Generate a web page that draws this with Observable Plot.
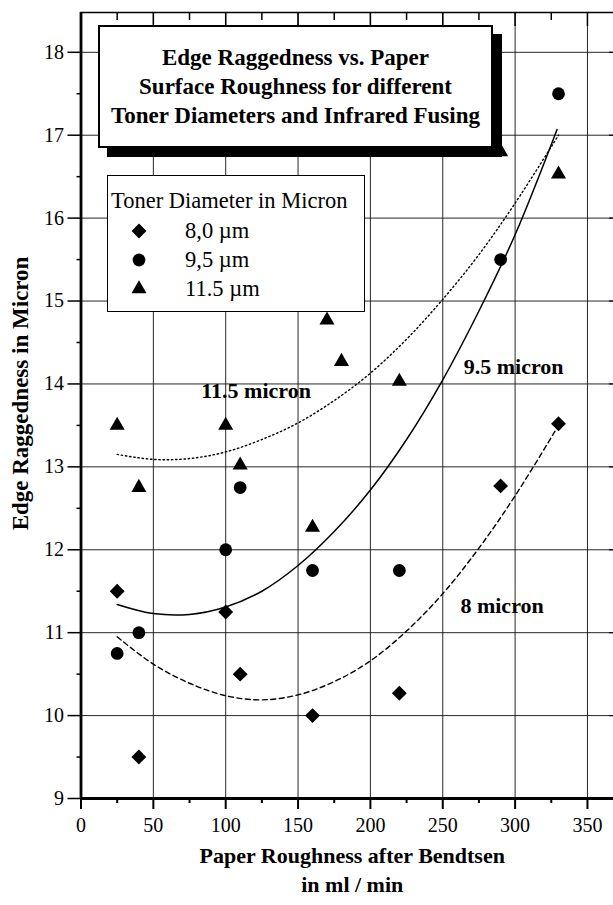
<!DOCTYPE html>
<html>
<head>
<meta charset="utf-8">
<script src="https://cdn.jsdelivr.net/npm/d3@7"></script>
<script src="https://cdn.jsdelivr.net/npm/@observablehq/plot@0.6"></script>
<style>
html, body { margin: 0; padding: 0; background: #fff; overflow: hidden; }
#wrap { position: relative; width: 613px; height: 905px; font-family: "Liberation Serif", "Times New Roman", serif; color: #000; }
#wrap svg.plot { position: absolute; left: 0; top: 0; }
#title { position: absolute; left: 98px; top: 25px; width: 391px; height: 119px; border: 2px solid #000; background: #fff;
  box-shadow: 9px 9px 0 #000; font-weight: bold; font-size: 23px; line-height: 29px; text-align: center;
  display: flex; align-items: center; justify-content: center; white-space: nowrap; }
#legend { position: absolute; left: 107px; top: 175px; width: 256px; height: 135px; border: 1.5px solid #000; background: #fff; font-size: 22.5px; }
#legend .ttl { position: absolute; left: 3px; top: 12px; white-space: nowrap; }
#legend .row { position: absolute; left: 0; white-space: nowrap; height: 26px; line-height: 26px; }
#legend .row svg { position: absolute; left: 21px; top: 3px; }
#legend .row span { position: absolute; left: 77px; top: 0; }
</style>
</head>
<body>
<div id="wrap"></div>
<script>
// ---- data ----
const roughness8 = [25, 40, 100, 110, 160, 220, 290, 330];
const ragged8 = [11.5, 9.5, 11.25, 10.5, 10.0, 10.27, 12.77, 13.52];

const roughness95 = [25, 40, 100, 110, 160, 220, 290, 330];
const ragged95 = [10.75, 11.0, 12.0, 12.75, 11.75, 11.75, 15.5, 17.5];

const roughness115 = [25, 40, 100, 110, 160, 170, 180, 220, 290, 330];
const ragged115 = [13.5, 12.75, 13.5, 13.02, 12.27, 14.77, 14.27, 14.03, 16.8, 16.53];

// fitted curves, points
const fitX8 = [25, 50, 75, 100, 125, 150, 175, 200, 225, 250, 275, 300, 330];
const fitY8 = [10.95, 10.62, 10.39, 10.24, 10.19, 10.25, 10.41, 10.66, 11.02, 11.47, 12.02, 12.65, 13.5];

const fitX95 = [25, 50, 75, 100, 125, 150, 175, 200, 225, 250, 275, 300, 329];
const fitY95 = [11.34, 11.23, 11.22, 11.31, 11.5, 11.81, 12.22, 12.72, 13.33, 14.05, 14.88, 15.8, 17.07];

const fitX115 = [25, 50, 75, 100, 125, 150, 175, 200, 225, 250, 275, 300, 330];
const fitY115 = [13.15, 13.09, 13.1, 13.18, 13.33, 13.53, 13.8, 14.13, 14.54, 15.02, 15.56, 16.18, 17.0];

// curve labels
const curveLabels = ["11.5 micron", "9.5 micron", "8 micron"];
const curveLabelX = [121, 299, 291];
const curveLabelY = [13.91, 14.2, 11.32];

// axes
const xDomain = [0, 368];
const yDomain = [9, 18.48];
const xMajor = [0, 50, 100, 150, 200, 250, 300, 350];
const xMinor = [25, 75, 125, 175, 225, 275, 325];
const yMajor = [9, 10, 11, 12, 13, 14, 15, 16, 17, 18];
const yMinor = [9.5, 10.5, 11.5, 12.5, 13.5, 14.5, 15.5, 16.5, 17.5];

const titleLines = ["Edge Raggedness vs. Paper", "Surface Roughness for different", "Toner Diameters and Infrared Fusing"];
const legendTitle = "Toner Diameter in Micron";
const legendLabels = ["8,0 \u00b5m", "9,5 \u00b5m", "11.5 \u00b5m"];
const xLabel = "Paper Roughness after Bendtsen\nin ml / min";
const yLabel = "Edge Raggedness in Micron";

// ---- tables ----
const pts8 = roughness8.map((x, i) => ({x, y: ragged8[i]}));
const pts95 = roughness95.map((x, i) => ({x, y: ragged95[i]}));
const pts115 = roughness115.map((x, i) => ({x, y: ragged115[i]}));
const fit8 = fitX8.map((x, i) => ({x, y: fitY8[i]}));
const fit95 = fitX95.map((x, i) => ({x, y: fitY95[i]}));
const fit115 = fitX115.map((x, i) => ({x, y: fitY115[i]}));
const labels = curveLabels.map((t, i) => ({t, x: curveLabelX[i], y: curveLabelY[i]}));

const blank = () => "";
const intFmt = (d) => String(d);
const serif = "'Liberation Serif', 'Times New Roman', serif";

const chart = Plot.plot({
  width: 613,
  height: 905,
  marginLeft: 80.5,
  marginRight: 0,
  marginTop: 12,
  marginBottom: 107,
  x: {domain: xDomain},
  y: {domain: yDomain},
  style: {fontFamily: serif, fontSize: "20px", background: "transparent", color: "#000", overflow: "visible"},
  marks: [
    Plot.gridX(xMajor, {stroke: "#111", strokeOpacity: 0.9, strokeWidth: 1}),
    Plot.gridY(yMajor, {stroke: "#111", strokeOpacity: 0.9, strokeWidth: 1}),
    // left axis
    Plot.axisY(yMajor, {anchor: "left", tickSize: 13, tickPadding: 4, fontSize: 20, tickFormat: intFmt, label: null, strokeWidth: 1.5}),
    Plot.axisY(yMinor, {anchor: "left", tickSize: 4, tickFormat: blank, label: null, strokeWidth: 1.5}),
    // right axis ticks (inward)
    Plot.axisY(yMajor, {anchor: "right", tickSize: -5, tickFormat: blank, label: null, strokeWidth: 1.2}),
    // bottom axis
    Plot.axisX(xMajor, {anchor: "bottom", tickSize: 11, tickPadding: 8, fontSize: 20, tickFormat: intFmt, label: null, strokeWidth: 2}),
    Plot.axisX(xMinor, {anchor: "bottom", tickSize: 5, tickFormat: blank, label: null, strokeWidth: 2}),
    // top axis ticks (inward)
    Plot.axisX(xMajor, {anchor: "top", tickSize: -13, tickFormat: blank, label: null, strokeWidth: 1.5}),
    Plot.axisX(xMinor, {anchor: "top", tickSize: -7, tickFormat: blank, label: null, strokeWidth: 1.5}),
    // frame lines
    Plot.ruleX([xDomain[0]], {strokeWidth: 2.8, stroke: "#000"}),
    Plot.ruleY([yDomain[0]], {strokeWidth: 2.8, stroke: "#000"}),
    Plot.ruleY([yDomain[1]], {strokeWidth: 1.6, stroke: "#000"}),
    // fitted curves
    Plot.line(fit115, {x: "x", y: "y", curve: "catmull-rom", stroke: "#000", strokeWidth: 1.4, strokeDasharray: "1.4,2.8"}),
    Plot.line(fit95, {x: "x", y: "y", curve: "catmull-rom", stroke: "#000", strokeWidth: 1.5}),
    Plot.line(fit8, {x: "x", y: "y", curve: "catmull-rom", stroke: "#000", strokeWidth: 1.4, strokeDasharray: "5,3.5"}),
    // points
    Plot.dot(pts8, {x: "x", y: "y", symbol: "diamond2", r: 6.7, fill: "#000", stroke: "none"}),
    Plot.dot(pts95, {x: "x", y: "y", symbol: "circle", r: 6.4, fill: "#000", stroke: "none"}),
    Plot.dot(pts115, {x: "x", y: "y", symbol: "triangle", r: 5.6, fill: "#000", stroke: "none"}),
    // curve labels
    Plot.text(labels, {x: "x", y: "y", text: "t", fontWeight: "bold", fontSize: 22, fill: "#000", fontFamily: serif}),
    // axis titles
    Plot.text([yLabel], {frameAnchor: "left", dx: -60, dy: -12, rotate: -90, textAnchor: "middle", lineAnchor: "middle",
      fontWeight: "bold", fontSize: 23, fill: "#000", fontFamily: serif}),
    Plot.text([xLabel], {frameAnchor: "bottom", dx: 5, dy: 70, textAnchor: "middle", lineAnchor: "middle", lineHeight: 1.28,
      fontWeight: "bold", fontSize: 22, fill: "#000", fontFamily: serif})
  ]
});
chart.classList.add("plot");
const wrap = document.getElementById("wrap");
wrap.appendChild(chart);

// title box
const title = document.createElement("div");
title.id = "title";
title.innerHTML = "<div>" + titleLines.join("<br>") + "</div>";
wrap.appendChild(title);

// legend box
const legend = document.createElement("div");
legend.id = "legend";
const lt = document.createElement("div");
lt.className = "ttl";
lt.textContent = legendTitle;
legend.appendChild(lt);
const syms = [d3.symbolDiamond2, d3.symbolCircle, d3.symbolTriangle];
const sizes = [Math.PI * 6.7 * 6.7, Math.PI * 6.4 * 6.4, Math.PI * 5.6 * 5.6];
const rowTops = [42, 71, 100];
legendLabels.forEach((lab, i) => {
  const row = document.createElement("div");
  row.className = "row";
  row.style.top = rowTops[i] + "px";
  const s = d3.create("svg").attr("width", 20).attr("height", 20);
  s.append("path").attr("transform", "translate(10,10)").attr("d", d3.symbol(syms[i], sizes[i])()).attr("fill", "#000");
  row.appendChild(s.node());
  const sp = document.createElement("span");
  sp.textContent = lab;
  row.appendChild(sp);
  legend.appendChild(row);
});
wrap.appendChild(legend);
</script>
</body>
</html>
